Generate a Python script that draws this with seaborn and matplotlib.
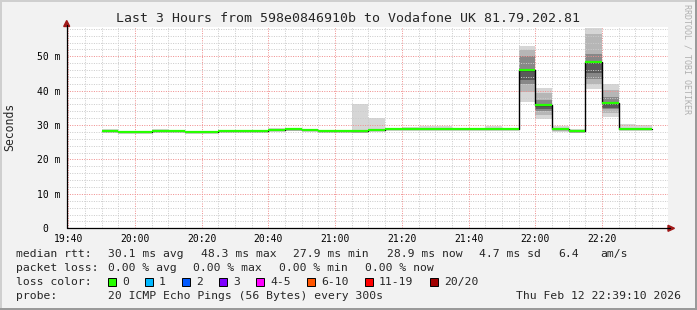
import numpy as np
import pandas as pd
import matplotlib
matplotlib.use("Agg")
import matplotlib.pyplot as plt
import seaborn as sns
from matplotlib.patches import Rectangle, Polygon
from matplotlib.lines import Line2D

# ---------------- data ----------------
seg_start = ["19:50", "19:55", "20:00", "20:05", "20:10", "20:15", "20:20", "20:25",
             "20:30", "20:35", "20:40", "20:45", "20:50", "20:55", "21:00", "21:05",
             "21:10", "21:15", "21:20", "21:25", "21:30", "21:35", "21:40", "21:45",
             "21:50", "21:55", "22:00", "22:05", "22:10", "22:15", "22:20", "22:25",
             "22:30"]
median_ms = [28.4, 28.0, 28.0, 28.4, 28.4, 28.0, 28.0, 28.4, 28.4, 28.4, 28.7, 28.9,
             28.7, 28.4, 28.4, 28.3, 28.7, 28.9, 29.0, 29.0, 29.0, 29.0, 29.0, 29.0,
             29.0, 46.1, 35.8, 28.8, 28.3, 48.3, 36.4, 29.0, 28.9]
smoke_lo = [28.3, 27.9, 27.9, 28.3, 28.3, 27.9, 27.9, 28.0, 28.0, 28.2, 28.2, 28.3,
            28.2, 28.2, 28.1, 27.7, 28.2, 28.6, 28.9, 28.6, 28.6, 28.9, 28.9, 28.8,
            28.9, 36.8, 31.7, 28.1, 27.6, 40.5, 32.4, 28.5, 28.6]
smoke_hi = [28.9, 28.4, 28.4, 28.8, 28.7, 28.2, 28.2, 28.5, 28.5, 28.5, 29.1, 29.1,
            28.9, 28.6, 28.6, 36.1, 32.1, 29.2, 29.3, 29.6, 29.6, 29.2, 29.2, 29.6,
            29.2, 53.0, 40.9, 29.8, 28.8, 58.3, 41.9, 30.2, 30.0]
# inner (darker) smoke bands for the spikes
spike_start = ["21:55", "22:00", "22:15", "22:20"]
mid_lo = [39.5, 32.8, 41.8, 33.4]
mid_hi = [51.8, 39.4, 56.5, 40.3]
core_lo = [42.0, 34.2, 43.5, 34.6]
core_hi = [50.0, 37.2, 50.6, 38.2]
dark_lo = [43.0, 34.6, 45.0, 35.0]
dark_hi = [46.0, 36.0, 48.6, 36.8]

x_tick_labels = ["19:40", "20:00", "20:20", "20:40", "21:00", "21:20", "21:40", "22:00", "22:20"]
y_tick_values = [0, 10, 20, 30, 40, 50]
y_tick_labels = ["0  ", "10 m", "20 m", "30 m", "40 m", "50 m"]

title = "Last 3 Hours from 598e0846910b to Vodafone UK 81.79.202.81"
rtt_items = ["median rtt:", "30.1 ms avg", "48.3 ms max", "27.9 ms min", "28.9 ms now",
             "4.7 ms sd", "6.4", "am/s"]
loss_items = ["packet loss:", "0.00 % avg", "0.00 % max", "0.00 % min", "0.00 % now"]
loss_labels = ["0", "1", "2", "3", "4-5", "6-10", "11-19", "20/20"]
loss_colors = ["#26ff00", "#00b8ff", "#0059ff", "#7e00ff", "#ff00ff", "#ff5500", "#ff0000", "#a10000"]
probe_items = ["probe:", "20 ICMP Echo Pings (56 Bytes) every 300s"]
timestamp = "Thu Feb 12 22:39:10 2026"

# ---------------- helpers ----------------
W, H = 697, 310
def to_min(s):
    h, m = s.split(":")
    return int(h) * 60 + int(m) - (19 * 60 + 40)

def fx(x):
    return x / W

def fy(y):
    return 1 - y / H

starts = np.array([to_min(s) for s in seg_start], dtype=float)
ends = starts + 5
df = pd.DataFrame({"start": starts, "median": median_ms, "lo": smoke_lo, "hi": smoke_hi})
sp = pd.DataFrame({"start": [to_min(s) for s in spike_start], "mlo": mid_lo, "mhi": mid_hi,
                   "clo": core_lo, "chi": core_hi, "dlo": dark_lo, "dhi": dark_hi})

sns.set_style("white")
plt.rcParams["font.family"] = ["DejaVu Sans Mono"]

fig = plt.figure(figsize=(W / 100, H / 100), dpi=100)
fig.patch.set_facecolor("#f2f2f2")
ax = fig.add_axes([fx(66.7), fy(228.3), 601.3 / W, 201.6 / H])
ax.set_facecolor("white")

# smoke
ax.bar(df["start"], df["hi"] - df["lo"], bottom=df["lo"], width=5, align="edge",
       color="#d6d6d6", linewidth=0, zorder=1)
ax.bar(sp["start"], sp["mhi"] - sp["mlo"], bottom=sp["mlo"], width=5, align="edge",
       color="#b6b6b6", linewidth=0, zorder=1.1)
ax.bar(sp["start"], sp["chi"] - sp["clo"], bottom=sp["clo"], width=5, align="edge",
       color="#888888", linewidth=0, zorder=1.2)
ax.bar(sp["start"], sp["dhi"] - sp["dlo"], bottom=sp["dlo"], width=5, align="edge",
       color="#5a5a5a", linewidth=0, zorder=1.3)

# median: black step + green segments
step_x = list(starts) + [ends[-1]]
step_y = list(median_ms) + [median_ms[-1]]
sns.lineplot(x=step_x, y=step_y, drawstyle="steps-post", color="black", lw=1.0,
             ax=ax, estimator=None, sort=False, zorder=3)
ax.hlines(df["median"], df["start"], df["start"] + 5, color=loss_colors[0], lw=1.6, zorder=4)

# axes limits & grid
ax.set_xlim(-0.48, 179.8)
ax.set_ylim(0, 58.6)
major_x = [0, 20, 40, 60, 80, 100, 120, 140, 160]
ax.set_xticks(major_x)
ax.set_xticklabels(x_tick_labels)
ax.set_xticks([m for m in range(0, 180, 5) if m not in major_x], minor=True)
ax.set_yticks(y_tick_values)
ax.set_yticklabels(y_tick_labels)
ax.set_yticks([v for v in range(2, 59, 2) if v % 10 != 0], minor=True)
ax.set_axisbelow(False)
ax.grid(which="minor", color="#cccccc", linestyle=(0, (1, 1.4)), lw=0.72)
ax.grid(which="major", color="#f09090", linestyle=(0, (1, 1.4)), lw=0.72)
ax.tick_params(axis="both", which="both", length=0, labelsize=7.0, colors="black")
ax.tick_params(axis="x", pad=4.0)
ax.tick_params(axis="y", pad=4.6)
for s in ax.spines.values():
    s.set_visible(False)
ax.set_xlabel("")
ax.set_ylabel("")
fig.text(fx(10), fy(127), "Seconds", rotation=90, ha="center", va="center", fontsize=8.3)

# axis lines with arrows
fig.add_artist(Line2D([fx(66.7), fx(670)], [fy(228.3), fy(228.3)], color="black", lw=0.9,
                      transform=fig.transFigure))
fig.add_artist(Line2D([fx(66.7), fx(66.7)], [fy(228.3), fy(25)], color="black", lw=0.9,
                      transform=fig.transFigure))
fig.add_artist(Polygon([[fx(668), fy(225.3)], [fx(668), fy(231.3)], [fx(674.5), fy(228.3)]],
                       closed=True, color="#a01818", transform=fig.transFigure))
fig.add_artist(Polygon([[fx(63.7), fy(26.5)], [fx(69.7), fy(26.5)], [fx(66.7), fy(20.5)]],
                       closed=True, color="#a01818", transform=fig.transFigure))

# frame
fig.add_artist(Rectangle((0, 0), fx(2), 1, color="#cfcfcf", transform=fig.transFigure, lw=0))
fig.add_artist(Rectangle((0, fy(2)), 1, 2 / H, color="#cfcfcf", transform=fig.transFigure, lw=0))
fig.add_artist(Rectangle((fx(695), 0), 2 / W, 1, color="#9a9a9a", transform=fig.transFigure, lw=0))
fig.add_artist(Rectangle((0, 0), 1, 2 / H, color="#9a9a9a", transform=fig.transFigure, lw=0))

# title and watermark
fig.text(fx(348), fy(19), title, ha="center", va="center", fontsize=9.5)
fig.text(fx(687.5), fy(4), "RRDTOOL / TOBI OETIKER", rotation=270, ha="center", va="top",
         fontsize=6.0, color="#b0b0b0")

# legend rows
fs = 8.2
rtt_x = [16, 107.7, 200.7, 293.3, 386.7, 479, 558, 600.7]
for t, x in zip(rtt_items, rtt_x):
    fig.text(fx(x), fy(254.3), t, ha="left", va="center", fontsize=fs)
loss_x = [16, 107.6, 193.3, 279.3, 365]
for t, x in zip(loss_items, loss_x):
    fig.text(fx(x), fy(268.3), t, ha="left", va="center", fontsize=fs)
fig.text(fx(16), fy(282.3), "loss color:", ha="left", va="center", fontsize=fs)
sq_x = [108, 145, 182, 219, 256, 307, 365, 430]
for lab, col, x in zip(loss_labels, loss_colors, sq_x):
    fig.add_artist(Rectangle((fx(x), fy(286.3)), 8 / W, 8 / H, facecolor=col, edgecolor="black",
                             lw=0.7, transform=fig.transFigure))
    fig.text(fx(x + 14), fy(282.3), lab, ha="left", va="center", fontsize=fs)
fig.text(fx(16), fy(296.3), probe_items[0], ha="left", va="center", fontsize=fs)
fig.text(fx(107.6), fy(296.3), probe_items[1], ha="left", va="center", fontsize=fs)
fig.text(fx(681), fy(296.3), timestamp, ha="right", va="center", fontsize=fs)

fig.savefig("out.png", dpi=100, facecolor=fig.get_facecolor())
